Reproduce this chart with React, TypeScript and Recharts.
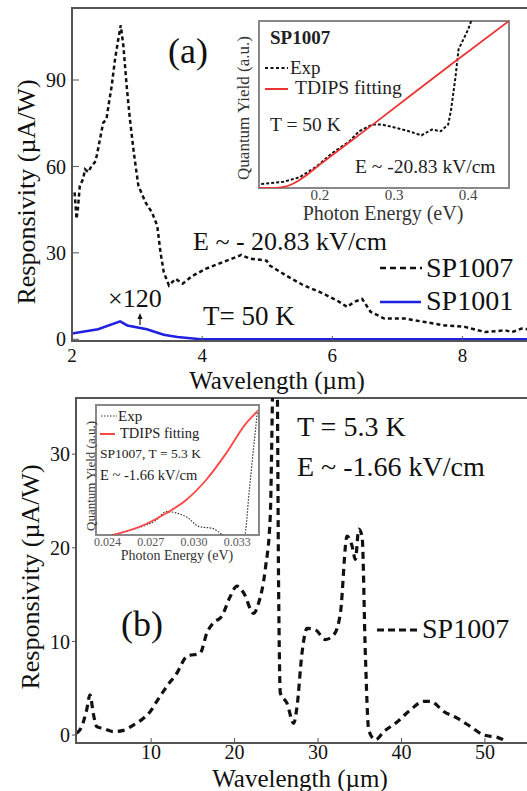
import React from 'react';
import { LineChart, Line, XAxis, YAxis, ReferenceArea } from 'recharts';

// panel (a): SP1007 responsivity vs wavelength (um), T = 50 K
const wlA1007 = [2.04, 2.07, 2.09, 2.12, 2.17, 2.2, 2.25, 2.3, 2.35, 2.38, 2.4, 2.45, 2.48, 2.53, 2.56, 2.61, 2.66, 2.71, 2.75, 2.79, 2.84, 2.89, 2.95, 3.02, 3.13, 3.23, 3.31, 3.36, 3.41, 3.49, 3.59, 3.7, 3.85, 4.06, 4.32, 4.52, 4.6, 4.73, 4.99, 5.04, 5.3, 5.56, 5.81, 6.07, 6.23, 6.33, 6.46, 6.59, 6.8, 7.11, 7.42, 7.73, 8.04, 8.35, 8.66, 8.76, 8.91, 9.0];
const respA1007 = [51, 41.8, 45.2, 53.3, 55.6, 59, 58, 60.2, 61.4, 63.7, 66, 71.8, 75.2, 76.4, 81, 87.9, 97, 104, 109, 101.7, 88, 76.4, 64.8, 53.3, 47.5, 44, 39.4, 30.2, 23.3, 18.7, 21, 19.3, 22, 24.5, 26.8, 28.5, 29.3, 28, 27.3, 25.6, 22, 18.7, 16.4, 13.5, 11.2, 12.9, 14, 9.5, 7.2, 7.2, 6, 4.8, 4.3, 2.5, 3.1, 2.5, 3.7, 3.5];
// SP1001 (x120)
const wlA1001 = [2.0, 2.4, 2.74, 2.85, 3.15, 3.41, 3.62, 3.98, 5, 6, 7, 8, 9.1];
const respA1001 = [2.0, 3.5, 6.2, 4.8, 3.5, 1.6, 0.8, 0, 0, 0, 0, 0, 0];

// inset (a): quantum yield vs photon energy (eV)
const eExpA = [0.121, 0.151, 0.173, 0.196, 0.217, 0.24, 0.253, 0.271, 0.284, 0.303, 0.32, 0.337, 0.351, 0.363, 0.373, 0.377, 0.383, 0.387, 0.4, 0.404];
const qyExpA = [2.4, 3.7, 6.5, 13, 21, 28, 34, 38, 38, 36, 34, 31.5, 35, 34, 38, 47, 67, 83, 95, 100];
const eFitA = [0.118, 0.14, 0.15, 0.16, 0.17, 0.18, 0.19, 0.2, 0.27, 0.38, 0.455];
const qyFitA = [0, 0, 0.5, 1.8, 4, 7, 10.5, 14, 37.5, 75, 100];

// panel (b): SP1007, T = 5.3 K
const wlB = [1.08, 1.68, 2.28, 2.68, 3.07, 3.48, 4.28, 5.48, 6.68, 7.88, 9.08, 9.88, 10.68, 11.88, 13.08, 14.28, 15.88, 16.68, 17.48, 18.48, 19.48, 20.28, 21.08, 22.28, 22.88, 23.68, 24.28, 24.68, 25.08, 25.28, 25.48, 26.28, 27.08, 27.48, 28.08, 28.68, 29.68, 30.88, 31.88, 32.68, 33.48, 34.08, 34.48, 34.88, 35.28, 35.68, 36.08, 36.88, 37.88, 39.48, 41.08, 42.68, 43.48, 45.08, 46.68, 48.28, 49.88, 51.48, 52.68];
const respB = [0.2, 0.9, 2.7, 4.3, 2.3, 0.9, 0.7, 0.36, 0.5, 1.07, 1.8, 2.5, 3.6, 5.2, 6.6, 8.4, 8.75, 10.9, 12, 12.7, 14.8, 15.9, 15.2, 13, 14.1, 17.7, 23.4, 40, 40, 15.5, 4.5, 3.4, 1.25, 3.0, 8.75, 11.4, 11.25, 10.2, 10.7, 13, 21.25, 20.2, 18.75, 22, 21.25, 8.4, 0.5, -0.5, 0.36, 1.4, 2.7, 3.6, 3.6, 2.5, 1.8, 0.9, 0, -0.25, -0.7];

// inset (b)
const eExpB = [0.0243, 0.026, 0.02737, 0.02806, 0.02945, 0.03037, 0.03129, 0.03198, 0.0325, 0.033, 0.03349, 0.03383, 0.03418, 0.0344];
const qyExpB = [0, 5.1, 11.5, 18, 14, 6.4, 5.1, 0, -3, -4, -1, 34.6, 73, 96];
const eFitB = [0.02437, 0.02668, 0.02806, 0.02945, 0.03083, 0.03222, 0.0336, 0.03438];
const qyFitB = [0, 8.5, 16.7, 26.9, 42.3, 62.8, 85.9, 95];

const ticksAx = [2, 4, 6, 8];
const ticksAy = [0, 30, 60, 90];
const ticksBx = [10, 20, 30, 40, 50];
const ticksBy = [0, 10, 20, 30];
const ticksInsetA = [0.2, 0.3, 0.4];
const ticksInsetB = [0.024, 0.027, 0.03, 0.033];

const pts = (xs: number[], ys: number[]) => xs.map((x, i) => ({ x, y: ys[i] }));

const FONT = '"Liberation Serif", "Times New Roman", serif';
const FRAME = '#555';

function Txt({ x, y, size, children, anchor = 'start', weight = 'normal', color = '#111', rotate = 0 }: any) {
  const tx = anchor === 'middle' ? '-50%' : anchor === 'end' ? '-100%' : '0';
  return (
    <div
      style={{
        position: 'absolute', left: x, top: y, fontSize: size, lineHeight: 1, whiteSpace: 'nowrap',
        fontWeight: weight, color,
        transform: `translate(${tx}, -50%)${rotate ? ` rotate(${rotate}deg)` : ''}`,
      }}
    >
      {children}
    </div>
  );
}

function Seg({ x1, x2, y, color, width, dash }: any) {
  return (
    <svg style={{ position: 'absolute', left: 0, top: 0, overflow: 'visible' }} width={1} height={1}>
      <line x1={x1} x2={x2} y1={y} y2={y} stroke={color} strokeWidth={width} strokeDasharray={dash} />
    </svg>
  );
}

export default function App() {
  return (
    <div style={{ position: 'absolute', left: 0, top: 0, width: 527, height: 791, overflow: 'hidden', background: '#fff', fontFamily: FONT, color: '#111' }}>
      {/* panel (a) */}
      <div style={{ position: 'absolute', left: 0, top: 0 }}>
        <LineChart width={534} height={395} margin={{ top: 8, right: 0, bottom: 0, left: 0 }}>
          <XAxis type="number" dataKey="x" domain={[2, 9.1]} ticks={ticksAx} allowDataOverflow height={54}
            tickSize={-5} tickMargin={13} axisLine={{ stroke: FRAME, strokeWidth: 2 }} tickLine={{ stroke: FRAME }}
            tick={{ fill: '#111', fontSize: 19 }} />
          <YAxis type="number" dataKey="y" domain={[-0.6, 115]} ticks={ticksAy} allowDataOverflow width={72}
            tickSize={-7} tickMargin={13} axisLine={{ stroke: FRAME, strokeWidth: 2 }} tickLine={{ stroke: FRAME }}
            tick={{ fill: '#111', fontSize: 20 }} />
          <ReferenceArea x1={2} x2={9.1} y1={-0.6} y2={115} fill="none" stroke={FRAME} strokeWidth={2} />
          <Line data={pts(wlA1001, respA1001)} dataKey="y" type="linear" stroke="#2020e0" strokeWidth={2.5} dot={false} isAnimationActive={false} />
          <Line data={pts(wlA1007, respA1007)} dataKey="y" type="linear" stroke="#111" strokeWidth={2.5} strokeDasharray="4 3" dot={false} isAnimationActive={false} />
        </LineChart>
      </div>

      {/* inset (a) */}
      <div style={{ position: 'absolute', left: 230, top: 15 }}>
        <LineChart width={285} height={210} margin={{ top: 6, right: 6, bottom: 0, left: 0 }}>
          <XAxis type="number" dataKey="x" domain={[0.118, 0.455]} ticks={ticksInsetA} allowDataOverflow height={37}
            tickSize={0} tickMargin={1} axisLine={false} tickLine={false} tick={{ fill: '#444', fontSize: 15 }} />
          <YAxis type="number" dataKey="y" domain={[0, 100]} allowDataOverflow width={29} tick={false} axisLine={false} tickLine={false} />
          <ReferenceArea x1={0.118} x2={0.455} y1={0} y2={100} fill="#fff" stroke="#888" strokeWidth={2} />
          <Line data={pts(eExpA, qyExpA)} dataKey="y" type="linear" stroke="#111" strokeWidth={2} strokeDasharray="3 2" dot={false} isAnimationActive={false} />
          <Line data={pts(eFitA, qyFitA)} dataKey="y" type="monotone" stroke="#ee3333" strokeWidth={1.8} dot={false} isAnimationActive={false} />
        </LineChart>
      </div>

      {/* panel (b) */}
      <div style={{ position: 'absolute', left: 0, top: 390 }}>
        <LineChart width={535} height={401} margin={{ top: 8, right: 0, bottom: 0, left: 0 }}>
          <XAxis type="number" dataKey="x" domain={[1, 56]} ticks={ticksBx} allowDataOverflow height={48}
            tickSize={-5} tickMargin={7} axisLine={{ stroke: FRAME, strokeWidth: 2 }} tickLine={{ stroke: FRAME }}
            tick={{ fill: '#111', fontSize: 20 }} />
          <YAxis type="number" dataKey="y" domain={[-0.85, 36]} ticks={ticksBy} allowDataOverflow width={76}
            tickSize={4} tickMargin={2} axisLine={{ stroke: FRAME, strokeWidth: 2 }} tickLine={{ stroke: FRAME }}
            tick={{ fill: '#111', fontSize: 20 }} />
          <ReferenceArea x1={1} x2={56} y1={-0.85} y2={36} fill="none" stroke={FRAME} strokeWidth={2} />
          <Line data={pts(wlB, respB)} dataKey="y" type="monotone" stroke="#111" strokeWidth={3.2} strokeDasharray="7 5" dot={false} isAnimationActive={false} />
        </LineChart>
      </div>

      {/* inset (b) */}
      <div style={{ position: 'absolute', left: 80, top: 400 }}>
        <LineChart width={185} height={160} margin={{ top: 5, right: 6, bottom: 0, left: 0 }}>
          <XAxis type="number" dataKey="x" domain={[0.0232, 0.0345]} ticks={ticksInsetB} allowDataOverflow height={25}
            tickSize={0} tickMargin={2} axisLine={false} tickLine={false} tickFormatter={(v: number) => v.toFixed(3)}
            tick={{ fill: '#555', fontSize: 12 }} />
          <YAxis type="number" dataKey="y" domain={[0, 100]} allowDataOverflow width={16} tick={false} axisLine={false} tickLine={false} />
          <ReferenceArea x1={0.0232} x2={0.0345} y1={0} y2={100} fill="#fff" stroke="#888" strokeWidth={2} />
          <Line data={pts(eExpB, qyExpB)} dataKey="y" type="monotone" stroke="#333" strokeWidth={1.2} strokeDasharray="1.5 1.5" dot={false} isAnimationActive={false} />
          <Line data={pts(eFitB, qyFitB)} dataKey="y" type="monotone" stroke="#ff4444" strokeWidth={1.8} dot={false} isAnimationActive={false} />
        </LineChart>
      </div>

      {/* panel (a) labels */}
      <Txt x={27} y={192} size={26} anchor="middle" rotate={-90}>Responsivity (µA/W)</Txt>
      <Txt x={277} y={380} size={25} anchor="middle">Wavelength (µm)</Txt>
      <Txt x={188} y={51} size={36} anchor="middle">(a)</Txt>
      <Txt x={193} y={242} size={26}>E ~ - 20.83 kV/cm</Txt>
      <Seg x1={380} x2={422} y={268} color="#111" width={2.5} dash="6 4" />
      <Txt x={426} y={268} size={28}>SP1007</Txt>
      <Seg x1={380} x2={421} y={302} color="#2020e0" width={2.5} />
      <Txt x={426} y={301} size={28}>SP1001</Txt>
      <Txt x={108} y={299} size={26}>×120</Txt>
      <svg style={{ position: 'absolute', left: 0, top: 0, overflow: 'visible' }} width={1} height={1}>
        <line x1={140} x2={140} y1={325} y2={318} stroke="#111" strokeWidth={1.2} />
        <polygon points="137.5,319 142.5,319 140,313" fill="#111" />
      </svg>
      <Txt x={203} y={316} size={27}>T= 50 K</Txt>

      {/* inset (a) labels */}
      <Txt x={270} y={37} size={19} weight="bold" color="#222">SP1007</Txt>
      <Seg x1={265} x2={288} y={68} color="#111" width={2} dash="3 2.5" />
      <Txt x={290} y={67} size={19} color="#222">Exp</Txt>
      <Seg x1={265} x2={288} y={89} color="#ee3333" width={2} />
      <Txt x={295} y={88} size={19.5} color="#222">TDIPS fitting</Txt>
      <Txt x={270} y={125} size={19.5} color="#222">T = 50 K</Txt>
      <Txt x={355} y={167} size={19.5} color="#222">E ~ -20.83 kV/cm</Txt>
      <Txt x={383} y={213} size={20} anchor="middle" color="#333">Photon Energy (eV)</Txt>
      <Txt x={243} y={108} size={17} anchor="middle" rotate={-90} color="#333">Quantum Yield (a.u.)</Txt>

      {/* panel (b) labels */}
      <Txt x={31} y={577} size={26} anchor="middle" rotate={-90}>Responsivity (µA/W)</Txt>
      <Txt x={300} y={778} size={25} anchor="middle">Wavelength (µm)</Txt>
      <Txt x={297} y={427} size={28}>T = 5.3 K</Txt>
      <Txt x={297} y={467} size={28}>E ~ -1.66 kV/cm</Txt>
      <Txt x={142} y={624} size={36} anchor="middle">(b)</Txt>
      <Seg x1={377} x2={418} y={630} color="#111" width={3} dash="7 4" />
      <Txt x={422} y={629} size={28}>SP1007</Txt>

      {/* inset (b) labels */}
      <Seg x1={101} x2={117} y={416} color="#333" width={1.2} dash="1.5 1.5" />
      <Txt x={118} y={416} size={15} color="#222">Exp</Txt>
      <Seg x1={100} x2={115} y={434} color="#ff4444" width={2} />
      <Txt x={120} y={433} size={14.5} color="#222">TDIPS fitting</Txt>
      <Txt x={100} y={454} size={13.5} color="#222">SP1007, T = 5.3 K</Txt>
      <Txt x={100} y={475} size={14.5} color="#222">E ~ -1.66 kV/cm</Txt>
      <Txt x={177} y={556} size={14} anchor="middle" color="#333">Photon Energy (eV)</Txt>
      <Txt x={90} y={476} size={13} anchor="middle" rotate={-90} color="#333">Quantum Yield (a.u.)</Txt>
    </div>
  );
}
